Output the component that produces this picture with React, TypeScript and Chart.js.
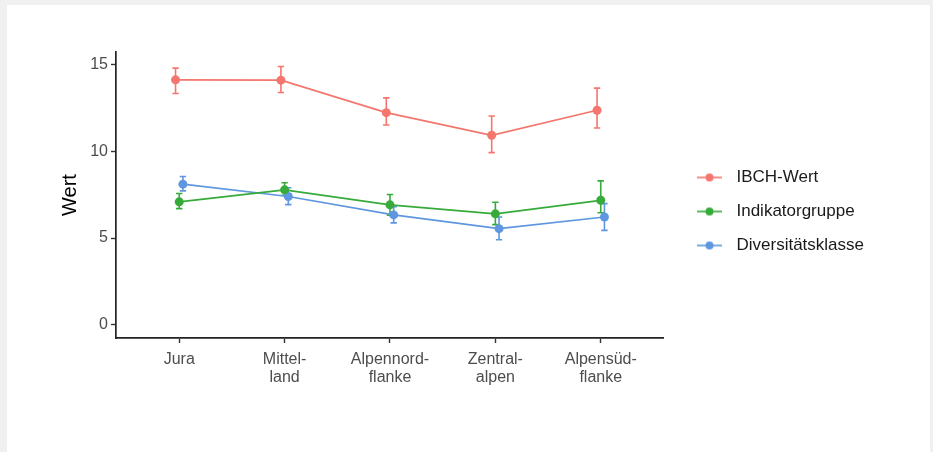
import React, { useEffect, useRef } from "react";
import { Chart, registerables } from "chart.js";
Chart.register(...registerables);

// ---- data ----
const categories: string[][] = [["Jura"], ["Mittel-", "land"], ["Alpennord-", "flanke"], ["Zentral-", "alpen"], ["Alpensüd-", "flanke"]];
const seriesNames = ["IBCH-Wert", "Indikatorgruppe", "Diversitätsklasse"];
const seriesColors = ["#F4766D", "#37AB3A", "#5E97E0"];

const ibchMean = [14.1, 14.08, 12.21, 10.91, 12.35];
const ibchLow = [13.31, 13.37, 11.5, 9.91, 11.33];
const ibchHigh = [14.77, 14.87, 13.06, 12.02, 13.62];

const indMean = [7.08, 7.77, 6.91, 6.39, 7.17];
const indLow = [6.69, 7.46, 6.32, 5.77, 6.45];
const indHigh = [7.56, 8.18, 7.5, 7.06, 8.29];

const divMean = [8.1, 7.39, 6.33, 5.54, 6.21];
const divLow = [7.71, 6.92, 5.87, 4.9, 5.44];
const divHigh = [8.54, 7.89, 6.8, 6.21, 6.98];

const yTicks = [0, 5, 10, 15];
const dodge = [-0.035, 0, 0.035];

const FONT = "'Liberation Sans', Arial, sans-serif";

const errorBarPlugin = {
  id: "errorBars",
  beforeDatasetsDraw(chart: any) {
    const ctx = chart.ctx;
    const xs = chart.scales.x;
    const ys = chart.scales.y;
    chart.data.datasets.forEach((ds: any) => {
      ctx.save();
      ctx.strokeStyle = ds.borderColor;
      ctx.lineWidth = 1.6;
      ds.data.forEach((p: any, i: number) => {
        const px = xs.getPixelForValue(p.x);
        const yl = ys.getPixelForValue(ds.errLow[i]);
        const yh = ys.getPixelForValue(ds.errHigh[i]);
        ctx.beginPath();
        ctx.moveTo(px, yl);
        ctx.lineTo(px, yh);
        ctx.moveTo(px - 3.2, yl);
        ctx.lineTo(px + 3.2, yl);
        ctx.moveTo(px - 3.2, yh);
        ctx.lineTo(px + 3.2, yh);
        ctx.stroke();
      });
      ctx.restore();
    });
  },
};

function makeMarker(color: string) {
  const c = document.createElement("canvas");
  c.width = 47;
  c.height = 12;
  const g = c.getContext("2d")!;
  g.strokeStyle = color;
  g.lineWidth = 1.6;
  g.beginPath();
  g.moveTo(16, 6);
  g.lineTo(41, 6);
  g.stroke();
  g.fillStyle = color;
  g.beginPath();
  g.arc(28.5, 6, 4, 0, Math.PI * 2);
  g.fill();
  return c;
}

export default function App() {
  const ref = useRef<HTMLCanvasElement | null>(null);
  useEffect(() => {
    if (!ref.current) return;
    const means = [ibchMean, indMean, divMean];
    const lows = [ibchLow, indLow, divLow];
    const highs = [ibchHigh, indHigh, divHigh];
    const markers = seriesColors.map(makeMarker);
    const datasets = seriesNames.map((name, s) => ({
      label: name,
      data: means[s].map((v, i) => ({ x: i + dodge[s], y: v })),
      errLow: lows[s],
      errHigh: highs[s],
      borderColor: seriesColors[s],
      backgroundColor: seriesColors[s],
      borderWidth: 1.7,
      pointRadius: 4.5,
      pointBorderWidth: 0,
      pointBackgroundColor: seriesColors[s],
      tension: 0,
    }));
    const chart = new Chart(ref.current, {
      type: "line",
      data: { datasets } as any,
      plugins: [errorBarPlugin],
      options: {
        responsive: false,
        animation: false,
        layout: { padding: { top: 52, left: 0, bottom: 54, right: 59 } },
        plugins: {
          tooltip: { enabled: false },
          legend: {
            position: "right",
            fullSize: false,
            title: { display: true, text: "", font: { family: FONT, size: 10 }, padding: { top: 21, bottom: 0 } },
            labels: {
              usePointStyle: true,
              pointStyleWidth: 47,
              padding: 17,
              color: "#1a1a1a",
              font: { family: FONT, size: 17 },
              generateLabels(chart: any) {
                const items = (Chart.defaults.plugins.legend.labels as any).generateLabels(chart);
                return items.map((it: any, i: number) => ({ ...it, pointStyle: markers[i], fontColor: "#1a1a1a" }));
              },
            },
          },
        },
        scales: {
          x: {
            type: "linear",
            min: -0.6,
            max: 4.6,
            afterBuildTicks(scale: any) {
              scale.ticks = categories.map((_, i) => ({ value: i }));
            },
            afterFit(scale: any) {
              scale.height = 60;
            },
            grid: { drawOnChartArea: false, drawTicks: true, tickLength: 5, tickWidth: 1.4, tickColor: "#333" },
            border: { display: true, color: "#222", width: 1.7 },
            ticks: {
              autoSkip: false,
              maxRotation: 0,
              padding: 8,
              color: "#4d4d4d",
              font: { family: FONT, size: 16, lineHeight: 1.12 },
              callback: (v: any) => {
                const c = categories[Math.round(Number(v))];
                return c ? (c.length === 1 ? c[0] : c) : "";
              },
            },
          },
          y: {
            min: -0.75,
            max: 15.7,
            afterBuildTicks(scale: any) {
              scale.ticks = yTicks.map((v) => ({ value: v }));
            },
            afterFit(scale: any) {
              scale.width = 116;
            },
            grid: { drawOnChartArea: false, drawTicks: true, tickLength: 5, tickWidth: 1.4, tickColor: "#333" },
            border: { display: true, color: "#222", width: 1.7 },
            ticks: {
              padding: 3,
              color: "#4d4d4d",
              font: { family: FONT, size: 16 },
              callback: (v: any) => String(v),
            },
            title: {
              display: true,
              text: "Wert",
              color: "#000",
              font: { family: FONT, size: 20 },
              padding: { top: 58, bottom: 0 },
            },
          },
        },
      } as any,
    });
    return () => chart.destroy();
  }, []);

  return (
    <div style={{ position: "absolute", left: 0, top: 0, width: 933, height: 452, background: "#f0f0f0", overflow: "hidden" }}>
      <div style={{ position: "absolute", left: 7, top: 5, width: 923, height: 447, background: "#ffffff" }} />
      <canvas ref={ref} width={933} height={452} style={{ position: "absolute", left: 0, top: 0, width: 933, height: 452 }} />
    </div>
  );
}
